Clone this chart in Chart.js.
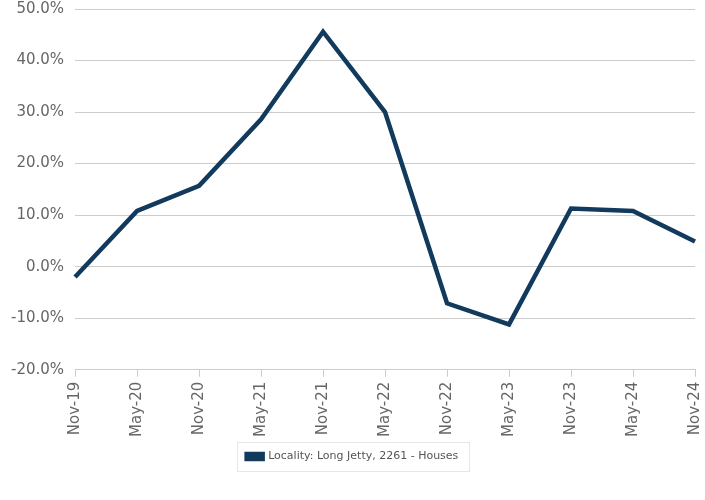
<!DOCTYPE html>
<html><head><meta charset="utf-8">
<script src="https://cdn.jsdelivr.net/npm/chart.js@4"></script>
<style>html,body{margin:0;padding:0;background:#fff}#wrap{width:705px;height:500px}</style>
</head><body><div id="wrap"><canvas id="c"></canvas></div>
<script>
const categories = ["Nov-19","May-20","Nov-20","May-21","Nov-21","May-22","Nov-22","May-23","Nov-23","May-24","Nov-24"];
const seriesName = "Locality: Long Jetty, 2261 - Houses";
const values = [-2.0, 10.8, 15.7, 28.6, 45.6, 30.0, -7.1, -11.2, 11.3, 10.8, 4.9];
const yMin = -20, yMax = 50, yStep = 10;

const legendBorder = {
  id: 'legendBorder',
  afterDraw(chart) {
    const lg = chart.legend;
    if (!lg || !lg.legendHitBoxes || !lg.legendHitBoxes.length) return;
    const hb = lg.legendHitBoxes[0];
    const ctx = chart.ctx;
    ctx.save();
    ctx.strokeStyle = '#e6e6e6';
    ctx.lineWidth = 1;
    ctx.strokeRect(Math.round(hb.left - 10) + 0.5, Math.round(hb.top - 9) + 0.5, Math.round(hb.width + 20), Math.round(hb.height + 18));
    ctx.restore();
  }
};

new Chart(document.getElementById('c'), {
  type: 'line',
  data: {
    labels: categories,
    datasets: [{
      label: seriesName,
      data: values,
      borderColor: '#113a5d',
      backgroundColor: '#113a5d',
      borderWidth: 4.5,
      pointRadius: 0,
      tension: 0,
      fill: false
    }]
  },
  options: {
    responsive: true,
    maintainAspectRatio: false,
    animation: false,
    layout: { padding: { top: 0, right: 0, left: 0, bottom: 28 } },
    plugins: {
      legend: {
        position: 'bottom',
        labels: {
          font: { family: 'DejaVu Sans', size: 11 },
          color: '#555',
          boxWidth: 16,
          boxHeight: 5,
          padding: 9
        }
      },
      tooltip: { enabled: false }
    },
    scales: {
      x: {
        afterFit(scale) { scale.paddingRight = 10; },
        grid: { drawOnChartArea: false, drawTicks: true, tickLength: 7, color: '#cccccc' },
        border: { display: true, color: '#cccccc' },
        ticks: {
          font: { family: 'DejaVu Sans', size: 15 },
          color: '#666',
          maxRotation: 90, minRotation: 90,
          autoSkip: false,
          padding: 5
        }
      },
      y: {
        afterFit(scale) { scale.paddingTop = 9; },
        min: yMin, max: yMax,
        grid: { color: '#cccccc', drawTicks: false },
        border: { display: false },
        ticks: {
          stepSize: yStep,
          font: { family: 'DejaVu Sans', size: 15 },
          color: '#666',
          padding: 11,
          callback: v => v.toFixed(1) + '%'
        }
      }
    }
  },
  plugins: [legendBorder]
});
</script></body></html>
